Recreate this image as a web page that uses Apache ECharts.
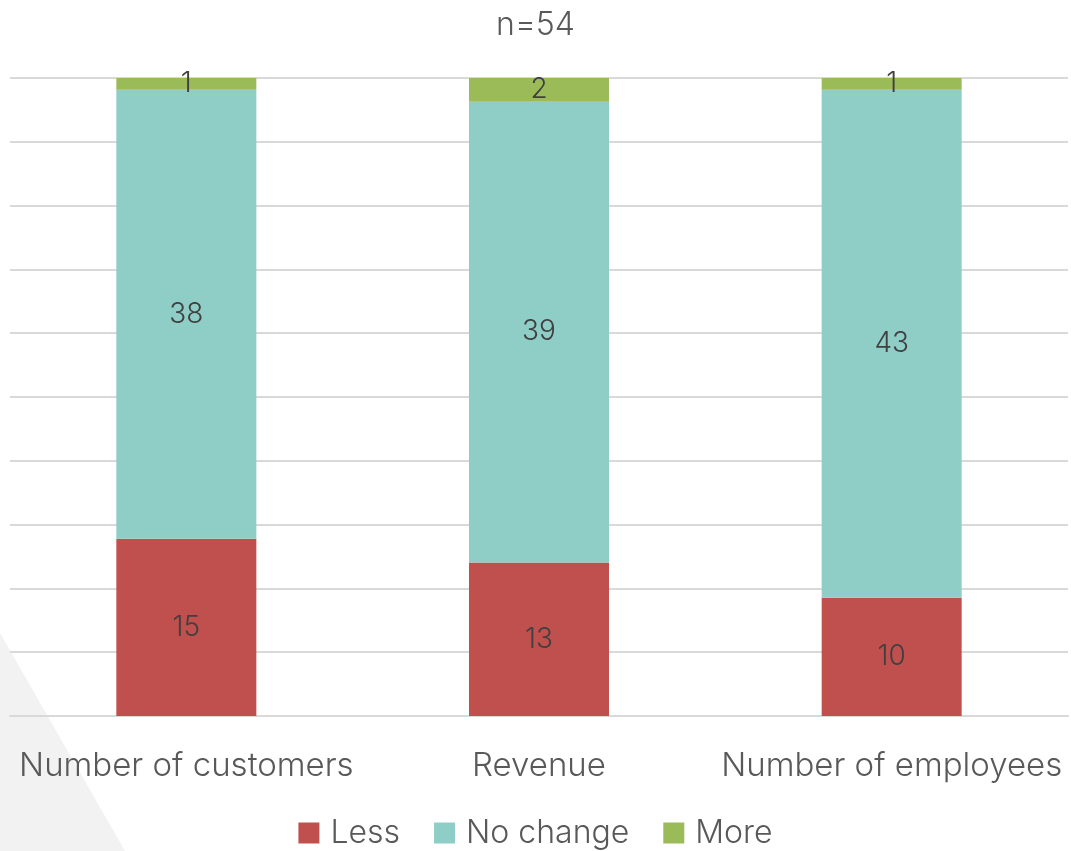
<!DOCTYPE html>
<html>
<head>
<meta charset="utf-8">
<script src="https://cdn.jsdelivr.net/npm/echarts@6/dist/echarts.min.js"></script>
<style>
  html, body { margin: 0; padding: 0; background: #ffffff; }
  #chart { width: 1071px; height: 851px; }
</style>
</head>
<body>
<div id="chart"></div>
<script>
// Survey responses (n=54) per measure
const categories = ['Number of customers', 'Revenue', 'Number of employees'];
const lessValues = [15, 13, 10];
const noChangeValues = [38, 39, 43];
const moreValues = [1, 2, 1];
const seriesNames = ['Less', 'No change', 'More'];
const totalRespondents = 54;

const FONT = 'Inter, "Open Sans", sans-serif';
const TEXT = '#595959';

const chart = echarts.init(document.getElementById('chart'), null, { renderer: 'canvas' });

const colors = ['#c0504d', '#8fcdc7', '#9bbb59'];
const seriesData = [lessValues, noChangeValues, moreValues];

chart.setOption({
  animation: false,
  backgroundColor: '#ffffff',
  title: {
    text: 'n=' + totalRespondents,
    left: 'center',
    top: 4,
    textStyle: { fontFamily: FONT, fontSize: 32, fontWeight: 300, color: TEXT }
  },
  graphic: [{
    type: 'polygon',
    z: -10,
    silent: true,
    shape: { points: [[0, 633], [125, 851], [0, 851]] },
    style: { fill: '#f2f2f2' }
  }],
  legend: {
    bottom: -3,
    left: 'center',
    itemWidth: 21,
    itemHeight: 21,
    itemGap: 34,
    icon: 'rect',
    textStyle: { fontFamily: FONT, fontSize: 32, fontWeight: 300, color: TEXT, padding: [0, 0, 0, 6] },
    data: seriesNames
  },
  grid: { left: 10, right: 3, top: 78, bottom: 135, containLabel: false },
  xAxis: {
    type: 'category',
    data: categories,
    axisTick: { show: false },
    axisLine: { lineStyle: { color: '#d9d9d9', width: 2 } },
    axisLabel: { interval: 0, fontFamily: FONT, fontSize: 33, fontWeight: 300, color: TEXT, margin: 34 }
  },
  yAxis: {
    type: 'value',
    min: 0,
    max: totalRespondents,
    interval: totalRespondents / 10,
    axisLabel: { show: false },
    axisLine: { show: false },
    axisTick: { show: false },
    splitLine: { lineStyle: { color: '#d9d9d9', width: 2 } }
  },
  series: seriesNames.map((name, i) => ({
    name,
    type: 'bar',
    stack: 'total',
    barWidth: 140,
    itemStyle: { color: colors[i] },
    label: {
      show: true,
      position: 'inside',
      fontFamily: FONT,
      fontSize: 28,
      fontWeight: 300,
      color: '#404040'
    },
    data: seriesData[i]
  }))
});
</script>
</body>
</html>
